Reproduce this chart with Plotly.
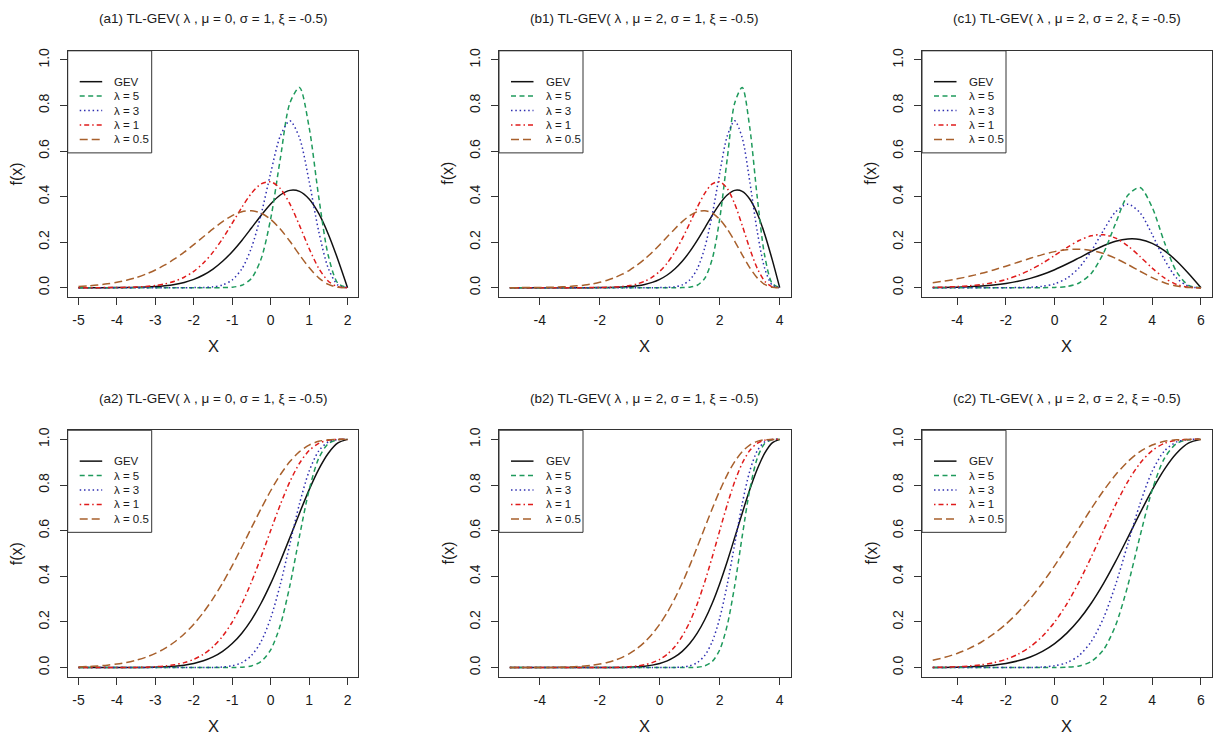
import plotly.graph_objects as go

# ---------------- data ----------------
series_names = ["GEV", "λ = 5", "λ = 3", "λ = 1", "λ = 0.5"]

titles = [
    "(a1) TL-GEV( λ , μ = 0, σ = 1, ξ = -0.5)",
    "(b1) TL-GEV( λ , μ = 2, σ = 1, ξ = -0.5)",
    "(c1) TL-GEV( λ , μ = 2, σ = 2, ξ = -0.5)",
    "(a2) TL-GEV( λ , μ = 0, σ = 1, ξ = -0.5)",
    "(b2) TL-GEV( λ , μ = 2, σ = 1, ξ = -0.5)",
    "(c2) TL-GEV( λ , μ = 2, σ = 2, ξ = -0.5)",
]

x_a = [-5, -4.75, -4.5, -4.25, -4, -3.75, -3.5, -3.25, -3, -2.75, -2.5, -2.25, -2, -1.75, -1.5,
       -1.25, -1, -0.75, -0.5, -0.25, 0, 0.25, 0.5, 0.75, 1, 1.25, 1.5, 1.75, 2]
x_b = [-5, -4.75, -4.5, -4.25, -4, -3.75, -3.5, -3.25, -3, -2.75, -2.5, -2.25, -2, -1.75, -1.5,
       -1.25, -1, -0.75, -0.5, -0.25, 0, 0.25, 0.5, 0.75, 1, 1.25, 1.5, 1.75, 2, 2.25, 2.5, 2.75,
       3, 3.25, 3.5, 3.75, 4]
x_c = [-5, -4.5, -4, -3.5, -3, -2.5, -2, -1.5, -1, -0.5, 0, 0.5, 1, 1.5, 2, 2.5, 3, 3.5, 4, 4.5,
       5, 5.5, 6]

# (a1) densities
a1_gev = [0, 0, 0.0001, 0.0002, 0.0004, 0.0007, 0.0014, 0.0027, 0.0048, 0.0084, 0.0142, 0.0232,
          0.0366, 0.0557, 0.0818, 0.1159, 0.1581, 0.2076, 0.2620, 0.3173, 0.3679, 0.4069, 0.4273,
          0.4229, 0.3894, 0.3258, 0.2349, 0.1231, 0]
a1_l5 = [0, 0, 0, 0, 0, 0, 0, 0, 0, 0, 0, 0, 0, 0, 0.0001, 0.0004, 0.0022, 0.0107, 0.0411, 0.1256,
         0.3022, 0.5652, 0.8108, 0.8792, 0.7047, 0.3987, 0.1402, 0.0191, 0]
a1_l3 = [0, 0, 0, 0, 0, 0, 0, 0, 0, 0, 0, 0.0001, 0.0003, 0.0011, 0.0039, 0.0122, 0.0338, 0.0824,
         0.1750, 0.3210, 0.5030, 0.6655, 0.7325, 0.6579, 0.4675, 0.2477, 0.0847, 0.0114, 0]
a1_l1 = [0, 0.0001, 0.0002, 0.0004, 0.0007, 0.0015, 0.0029, 0.0053, 0.0096, 0.0168, 0.0283, 0.0460,
         0.0719, 0.1082, 0.1560, 0.2153, 0.2829, 0.3525, 0.4142, 0.4556, 0.4651, 0.4354, 0.3677,
         0.2735, 0.1723, 0.0855, 0.0285, 0.0038, 0]
a1_l05 = [0.0054, 0.0080, 0.0117, 0.0168, 0.0236, 0.0326, 0.0443, 0.0592, 0.0776, 0.0998, 0.1260,
          0.1559, 0.1888, 0.2235, 0.2581, 0.2902, 0.3165, 0.3336, 0.3381, 0.3273, 0.3001, 0.2576,
          0.2037, 0.1445, 0.0883, 0.0431, 0.0143, 0.0019, 0]

# (b1) densities
b1_gev = [0, 0, 0, 0, 0, 0, 0, 0, 0, 0, 0.0001, 0.0002, 0.0004, 0.0007, 0.0014, 0.0027, 0.0048,
          0.0084, 0.0142, 0.0232, 0.0366, 0.0557, 0.0818, 0.1159, 0.1581, 0.2076, 0.2620, 0.3173,
          0.3679, 0.4069, 0.4273, 0.4229, 0.3894, 0.3258, 0.2349, 0.1231, 0]
b1_l5 = [0, 0, 0, 0, 0, 0, 0, 0, 0, 0, 0, 0, 0, 0, 0, 0, 0, 0, 0, 0, 0, 0, 0.0001, 0.0004, 0.0022,
         0.0107, 0.0411, 0.1256, 0.3022, 0.5652, 0.8108, 0.8792, 0.7047, 0.3987, 0.1402, 0.0191, 0]
b1_l3 = [0, 0, 0, 0, 0, 0, 0, 0, 0, 0, 0, 0, 0, 0, 0, 0, 0, 0, 0, 0.0001, 0.0003, 0.0011, 0.0039,
         0.0122, 0.0338, 0.0824, 0.1750, 0.3210, 0.5030, 0.6655, 0.7325, 0.6579, 0.4675, 0.2477,
         0.0847, 0.0114, 0]
b1_l1 = [0, 0, 0, 0, 0, 0, 0, 0, 0, 0.0001, 0.0002, 0.0004, 0.0007, 0.0015, 0.0029, 0.0053, 0.0096,
         0.0168, 0.0283, 0.0460, 0.0719, 0.1082, 0.1560, 0.2153, 0.2829, 0.3525, 0.4142, 0.4556,
         0.4651, 0.4354, 0.3677, 0.2735, 0.1723, 0.0855, 0.0285, 0.0038, 0]
b1_l05 = [0.0001, 0.0002, 0.0004, 0.0006, 0.0009, 0.0015, 0.0023, 0.0036, 0.0054, 0.0080, 0.0117,
          0.0168, 0.0236, 0.0326, 0.0443, 0.0592, 0.0776, 0.0998, 0.1260, 0.1559, 0.1888, 0.2235,
          0.2581, 0.2902, 0.3165, 0.3336, 0.3381, 0.3273, 0.3001, 0.2576, 0.2037, 0.1445, 0.0883,
          0.0431, 0.0143, 0.0019, 0]

# (c1) densities
c1_gev = [0.0007, 0.0013, 0.0024, 0.0042, 0.0071, 0.0116, 0.0183, 0.0279, 0.0409, 0.0580, 0.0790,
          0.1038, 0.1310, 0.1587, 0.1839, 0.2035, 0.2137, 0.2115, 0.1947, 0.1629, 0.1175, 0.0615, 0]
c1_l5 = [0, 0, 0, 0, 0, 0, 0, 0, 0, 0.0002, 0.0011, 0.0054, 0.0206, 0.0628, 0.1511, 0.2826, 0.4054,
         0.4396, 0.3524, 0.1994, 0.0701, 0.0096, 0]
c1_l3 = [0, 0, 0, 0, 0, 0, 0.0001, 0.0006, 0.0020, 0.0061, 0.0169, 0.0412, 0.0875, 0.1605, 0.2515,
         0.3328, 0.3663, 0.3290, 0.2337, 0.1239, 0.0424, 0.0057, 0]
c1_l1 = [0.0014, 0.0027, 0.0048, 0.0084, 0.0142, 0.0230, 0.0360, 0.0541, 0.0780, 0.1076, 0.1414,
         0.1763, 0.2071, 0.2278, 0.2325, 0.2177, 0.1838, 0.1367, 0.0861, 0.0427, 0.0142, 0.0019, 0]
c1_l05 = [0.0222, 0.0296, 0.0388, 0.0499, 0.0630, 0.0780, 0.0944, 0.1118, 0.1291, 0.1451, 0.1583,
          0.1668, 0.1691, 0.1637, 0.1501, 0.1288, 0.1019, 0.0723, 0.0442, 0.0216, 0.0072, 0.0010, 0]

# (a2) distribution functions
a2_gev = [0, 0, 0, 0.0001, 0.0001, 0.0003, 0.0005, 0.0010, 0.0019, 0.0036, 0.0063, 0.0109, 0.0183,
          0.0297, 0.0468, 0.0713, 0.1054, 0.1510, 0.2096, 0.2821, 0.3679, 0.4651, 0.5698, 0.6767,
          0.7788, 0.8688, 0.9394, 0.9845, 1]
a2_l5 = [0, 0, 0, 0, 0, 0, 0, 0, 0, 0, 0, 0, 0, 0, 0, 0, 0.0003, 0.0017, 0.0074, 0.0267, 0.0780,
         0.1853, 0.3594, 0.5757, 0.7782, 0.9169, 0.9818, 0.9988, 1]
a2_l3 = [0, 0, 0, 0, 0, 0, 0, 0, 0, 0, 0, 0, 0, 0.0002, 0.0008, 0.0026, 0.0080, 0.0218, 0.0529,
         0.1138, 0.2165, 0.3637, 0.5412, 0.7180, 0.8603, 0.9493, 0.9890, 0.9993, 1]
a2_l1 = [0, 0, 0.0001, 0.0001, 0.0002, 0.0005, 0.0010, 0.0020, 0.0039, 0.0071, 0.0126, 0.0218,
         0.0363, 0.0586, 0.0914, 0.1376, 0.1997, 0.2792, 0.3753, 0.4846, 0.6004, 0.7138, 0.8149,
         0.8954, 0.9511, 0.9828, 0.9963, 0.9998, 1]
a2_l05 = [0.0031, 0.0048, 0.0072, 0.0107, 0.0157, 0.0227, 0.0322, 0.0451, 0.0621, 0.0842, 0.1123,
          0.1475, 0.1905, 0.2420, 0.3022, 0.3709, 0.4469, 0.5284, 0.6126, 0.6961, 0.7749, 0.8449,
          0.9027, 0.9463, 0.9752, 0.9914, 0.9982, 0.9999, 1]

# (b2) distribution functions
b2_gev = [0, 0, 0, 0, 0, 0, 0, 0, 0, 0, 0, 0.0001, 0.0001, 0.0003, 0.0005, 0.0010, 0.0019, 0.0036,
          0.0063, 0.0109, 0.0183, 0.0297, 0.0468, 0.0713, 0.1054, 0.1510, 0.2096, 0.2821, 0.3679,
          0.4651, 0.5698, 0.6767, 0.7788, 0.8688, 0.9394, 0.9845, 1]
b2_l5 = [0, 0, 0, 0, 0, 0, 0, 0, 0, 0, 0, 0, 0, 0, 0, 0, 0, 0, 0, 0, 0, 0, 0, 0, 0.0003, 0.0017,
         0.0074, 0.0267, 0.0780, 0.1853, 0.3594, 0.5757, 0.7782, 0.9169, 0.9818, 0.9988, 1]
b2_l3 = [0, 0, 0, 0, 0, 0, 0, 0, 0, 0, 0, 0, 0, 0, 0, 0, 0, 0, 0, 0, 0, 0.0002, 0.0008, 0.0026,
         0.0080, 0.0218, 0.0529, 0.1138, 0.2165, 0.3637, 0.5412, 0.7180, 0.8603, 0.9493, 0.9890,
         0.9993, 1]
b2_l1 = [0, 0, 0, 0, 0, 0, 0, 0, 0, 0, 0.0001, 0.0001, 0.0002, 0.0005, 0.0010, 0.0020, 0.0039,
         0.0071, 0.0126, 0.0218, 0.0363, 0.0586, 0.0914, 0.1376, 0.1997, 0.2792, 0.3753, 0.4846,
         0.6004, 0.7138, 0.8149, 0.8954, 0.9511, 0.9828, 0.9963, 0.9998, 1]
b2_l05 = [0.0001, 0.0001, 0.0002, 0.0003, 0.0005, 0.0008, 0.0012, 0.0020, 0.0031, 0.0048, 0.0072,
          0.0107, 0.0157, 0.0227, 0.0322, 0.0451, 0.0621, 0.0842, 0.1123, 0.1475, 0.1905, 0.2420,
          0.3022, 0.3709, 0.4469, 0.5284, 0.6126, 0.6961, 0.7749, 0.8449, 0.9027, 0.9463, 0.9752,
          0.9914, 0.9982, 0.9999, 1]

# (c2) distribution functions
c2_gev = [0.0005, 0.0010, 0.0019, 0.0036, 0.0063, 0.0109, 0.0183, 0.0297, 0.0468, 0.0713, 0.1054,
          0.1510, 0.2096, 0.2821, 0.3679, 0.4651, 0.5698, 0.6767, 0.7788, 0.8688, 0.9394, 0.9845, 1]
c2_l5 = [0, 0, 0, 0, 0, 0, 0, 0, 0, 0, 0.0003, 0.0017, 0.0074, 0.0267, 0.0780, 0.1853, 0.3594,
         0.5757, 0.7782, 0.9169, 0.9818, 0.9988, 1]
c2_l3 = [0, 0, 0, 0, 0, 0, 0, 0.0002, 0.0008, 0.0026, 0.0080, 0.0218, 0.0529, 0.1138, 0.2165,
         0.3637, 0.5412, 0.7180, 0.8603, 0.9493, 0.9890, 0.9993, 1]
c2_l1 = [0.0010, 0.0020, 0.0039, 0.0071, 0.0126, 0.0218, 0.0363, 0.0586, 0.0914, 0.1376, 0.1997,
         0.2792, 0.3753, 0.4846, 0.6004, 0.7138, 0.8149, 0.8954, 0.9511, 0.9828, 0.9963, 0.9998, 1]
c2_l05 = [0.0322, 0.0451, 0.0621, 0.0842, 0.1123, 0.1475, 0.1905, 0.2420, 0.3022, 0.3709, 0.4469,
          0.5284, 0.6126, 0.6961, 0.7749, 0.8449, 0.9027, 0.9463, 0.9752, 0.9914, 0.9982, 0.9999, 1]

x_ticks_a = [-5, -4, -3, -2, -1, 0, 1, 2]
x_ticks_b = [-4, -2, 0, 2, 4]
x_ticks_c = [-4, -2, 0, 2, 4, 6]
y_ticks = [0, 0.2, 0.4, 0.6, 0.8, 1.0]

panels = [
    (x_a, [a1_gev, a1_l5, a1_l3, a1_l1, a1_l05]),
    (x_b, [b1_gev, b1_l5, b1_l3, b1_l1, b1_l05]),
    (x_c, [c1_gev, c1_l5, c1_l3, c1_l1, c1_l05]),
    (x_a, [a2_gev, a2_l5, a2_l3, a2_l1, a2_l05]),
    (x_b, [b2_gev, b2_l5, b2_l3, b2_l1, b2_l05]),
    (x_c, [c2_gev, c2_l5, c2_l3, c2_l1, c2_l05]),
]
x_tick_sets = [x_ticks_a, x_ticks_b, x_ticks_c]

# ---------------- styling ----------------
W, H = 1216, 737
FONT = "Liberation Sans, Arial, Helvetica, sans-serif"
TXT = "#1a1a1a"
colors = ["#111111", "#1f9a5c", "#2e2eb0", "#e01b1b", "#a8602c"]
dashes = ["solid", "5px,3.5px", "1.5px,2.8px", "1.5px,3px,5px,3px", "8px,4px"]
LW = 1.5

col_px = [(67.7, 358.3, [-5.28, 2.28]), (499.0, 790.5, [-5.36, 4.36]), (922.0, 1211.7, [-5.44, 6.44])]
row_px = [(48.0, 295.0), (429.0, 676.5)]


def px(xv):
    return xv / W


def py(yv):
    return 1 - yv / H


fig = go.Figure()
layout = dict(
    width=W, height=H, margin=dict(l=0, r=0, t=0, b=0),
    paper_bgcolor="white", plot_bgcolor="white", showlegend=False,
    font=dict(family=FONT, color=TXT),
)
shapes, annotations = [], []

for i, (xs, ys_list) in enumerate(panels):
    r, c = divmod(i, 3)
    x0, x1, xr = col_px[c]
    y0, y1 = row_px[r]
    n = i + 1
    xa = "x" if n == 1 else f"x{n}"
    ya = "y" if n == 1 else f"y{n}"
    for k, ys in enumerate(ys_list):
        fig.add_trace(go.Scatter(
            x=xs, y=ys, mode="lines", xaxis=xa, yaxis=ya, name=series_names[k],
            line=dict(color=colors[k], width=LW, dash=dashes[k], shape="spline", smoothing=0.8),
            hoverinfo="skip"))
    axis_common = dict(showgrid=False, zeroline=False, showline=True, mirror=True,
                       linecolor="#333333", linewidth=1, ticks="outside", ticklen=7,
                       tickwidth=1, tickcolor="#333333",
                       tickfont=dict(family=FONT, size=14, color=TXT))
    layout[f"xaxis{'' if n == 1 else n}"] = dict(
        axis_common, domain=[px(x0), px(x1)], range=xr, anchor=ya,
        tickvals=x_tick_sets[c], ticktext=[str(v) for v in x_tick_sets[c]],
        ticklabelstandoff=3)
    layout[f"yaxis{'' if n == 1 else n}"] = dict(
        axis_common, domain=[py(y1), py(y0)], range=[-0.04, 1.04], anchor=xa,
        tickvals=y_ticks, ticktext=[f"{v:.1f}" for v in y_ticks], tickangle=-90,
        ticklabelstandoff=5)

    cx = (x0 + x1) / 2
    # panel title
    annotations.append(dict(text=titles[i], xref="paper", yref="paper", x=px(cx),
                            y=py(16 if r == 0 else 397), showarrow=False, xanchor="center",
                            yanchor="middle", font=dict(size=13.5, family=FONT, color=TXT)))
    # x label
    annotations.append(dict(text="X", xref="paper", yref="paper", x=px(cx), y=py(y1 + 49),
                            showarrow=False, xanchor="center", yanchor="middle",
                            font=dict(size=16.5, family=FONT, color=TXT)))
    # y label
    annotations.append(dict(text="f(x)", xref="paper", yref="paper", x=px(x0 - 51),
                            y=py((y0 + y1) / 2), showarrow=False, xanchor="center",
                            yanchor="middle", textangle=-90,
                            font=dict(size=16, family=FONT, color=TXT)))
    # legend box
    shapes.append(dict(type="rect", xref="paper", yref="paper", x0=px(x0), x1=px(x0 + 84),
                       y0=py(y0 + 102.5), y1=py(y0), line=dict(color="#333333", width=1),
                       fillcolor="rgba(0,0,0,0)"))
    row_offsets = [31, 45.5, 60, 74.5, 89]
    for k in range(5):
        yy = y0 + row_offsets[k]
        shapes.append(dict(type="line", xref="paper", yref="paper", x0=px(x0 + 12),
                           x1=px(x0 + 34.5), y0=py(yy), y1=py(yy),
                           line=dict(color=colors[k], width=LW, dash=dashes[k])))
        annotations.append(dict(text=series_names[k], xref="paper", yref="paper",
                                x=px(x0 + 44.5), y=py(yy), showarrow=False, xanchor="left",
                                yanchor="middle", font=dict(size=11.5, family=FONT, color=TXT)))

layout["shapes"] = shapes
layout["annotations"] = annotations
fig.update_layout(**layout)
fig.write_html(
    "out.html",
    config={"displayModeBar": False},
    post_script="document.body.style.margin='0';document.body.style.overflow='hidden';",
)
